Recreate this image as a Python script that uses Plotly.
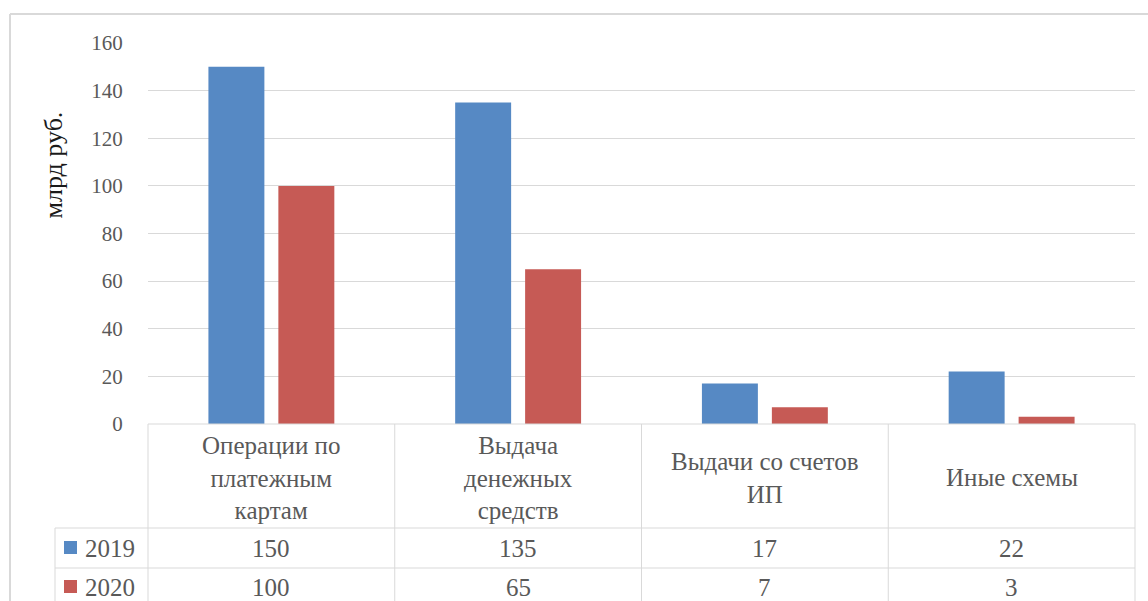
import plotly.graph_objects as go

# Data
categories = ["Операции по платежным картам", "Выдача денежных средств",
              "Выдачи со счетов ИП", "Иные схемы"]
table_labels = ["Операции по<br>платежным<br>картам", "Выдача<br>денежных<br>средств",
                "Выдачи со счетов<br>ИП", "Иные схемы"]
years = ["2019", "2020"]
values_2019 = [150, 135, 17, 22]
values_2020 = [100, 65, 7, 3]
y_ticks = [0, 20, 40, 60, 80, 100, 120, 140, 160]
y_title = "млрд руб."

# Styling
W, H = 1148, 601
L, R = 148, 1135          # plot area, px
T, B = 43, 424
Y_MAX = 160
FONT = "serif"
TXT = "#595959"
GRID = "#d9d9d9"
colors = ["#5689c4", "#c65a55"]
LINE_H = 16.5             # half line height of 25px text, px
PAD = 17                  # half height of a one-line text box, px


def px(x):
    return (x - L) / (R - L)


def py(y):
    return (B - y) / (B - T)


def dy(y):
    # pixel row -> y-axis units
    return py(y) * Y_MAX


def bottom_of(center, n_lines=1):
    # texts below the plot are anchored at their bottom edge
    return py(center + PAD + (n_lines - 1) * LINE_H)


fig = go.Figure()
for name, vals, col in zip(years, [values_2019, values_2020], colors):
    fig.add_trace(go.Bar(x=categories, y=vals, name=name,
                         marker=dict(color=col, line=dict(width=0))))

shapes = []
annotations = []


def hline(y, x0, x1, w=1):
    shapes.append(dict(type="line", xref="paper", yref="paper",
                       x0=px(x0), x1=px(x1), y0=py(y), y1=py(y),
                       line=dict(color=GRID, width=w)))


def vline(x, y0, y1, w=1):
    shapes.append(dict(type="line", xref="paper", yref="paper",
                       x0=px(x), x1=px(x), y0=py(y0), y1=py(y1),
                       line=dict(color=GRID, width=w)))


# outer chart frame (top and left edges)
hline(14, 10, W, w=2)
vline(10, 14, H, w=2)

# data table grid
col_edges = [L + (R - L) * i / 4 for i in range(5)]
hline(424, L, R)
hline(528, 55, R)
hline(568, 55, R)
vline(55, 528, H)
for xe in col_edges:
    vline(xe, 424, H)

# category labels
for cat, lab in zip(categories, table_labels):
    n = lab.count("<br>") + 1
    annotations.append(dict(x=cat, xref="x", y=bottom_of(476, n), yref="paper",
                            text=lab, showarrow=False,
                            font=dict(family=FONT, size=25, color=TXT)))

# value rows with legend keys
for (yr, vals, col, cy) in zip(years, [values_2019, values_2020], colors, [547, 586]):
    for cat, v in zip(categories, vals):
        annotations.append(dict(x=cat, xref="x", y=bottom_of(cy), yref="paper",
                                text=str(v), showarrow=False,
                                font=dict(family=FONT, size=25, color=TXT)))
    shapes.append(dict(type="rect", xref="paper", yref="paper",
                       x0=px(64), x1=px(77), y0=py(cy - 6), y1=py(cy + 7),
                       line=dict(width=0), fillcolor=col))
    annotations.append(dict(x=px(83), xref="paper", y=bottom_of(cy), yref="paper",
                            text=yr, showarrow=False,
                            font=dict(family=FONT, size=25, color=TXT)))

# axis title
annotations.append(dict(x=px(36), xref="paper", y=dy(165), yref="y",
                        text=y_title, showarrow=False, textangle=-90,
                        font=dict(family=FONT, size=26, color="#1a1a1a")))

fig.update_layout(
    width=W, height=H,
    margin=dict(l=L, r=W - R, t=T, b=H - B),
    plot_bgcolor="white",
    barmode="group", bargap=0.433, bargroupgap=0.2,
    showlegend=False,
    xaxis=dict(showticklabels=False, showgrid=False, zeroline=False),
    yaxis=dict(range=[0, Y_MAX], tickvals=y_ticks, gridcolor=GRID, zeroline=False,
               ticks="outside", ticklen=20, tickcolor="white",
               tickfont=dict(family=FONT, size=21, color=TXT)),
    shapes=shapes, annotations=annotations,
)

fig.write_html("out.html")
